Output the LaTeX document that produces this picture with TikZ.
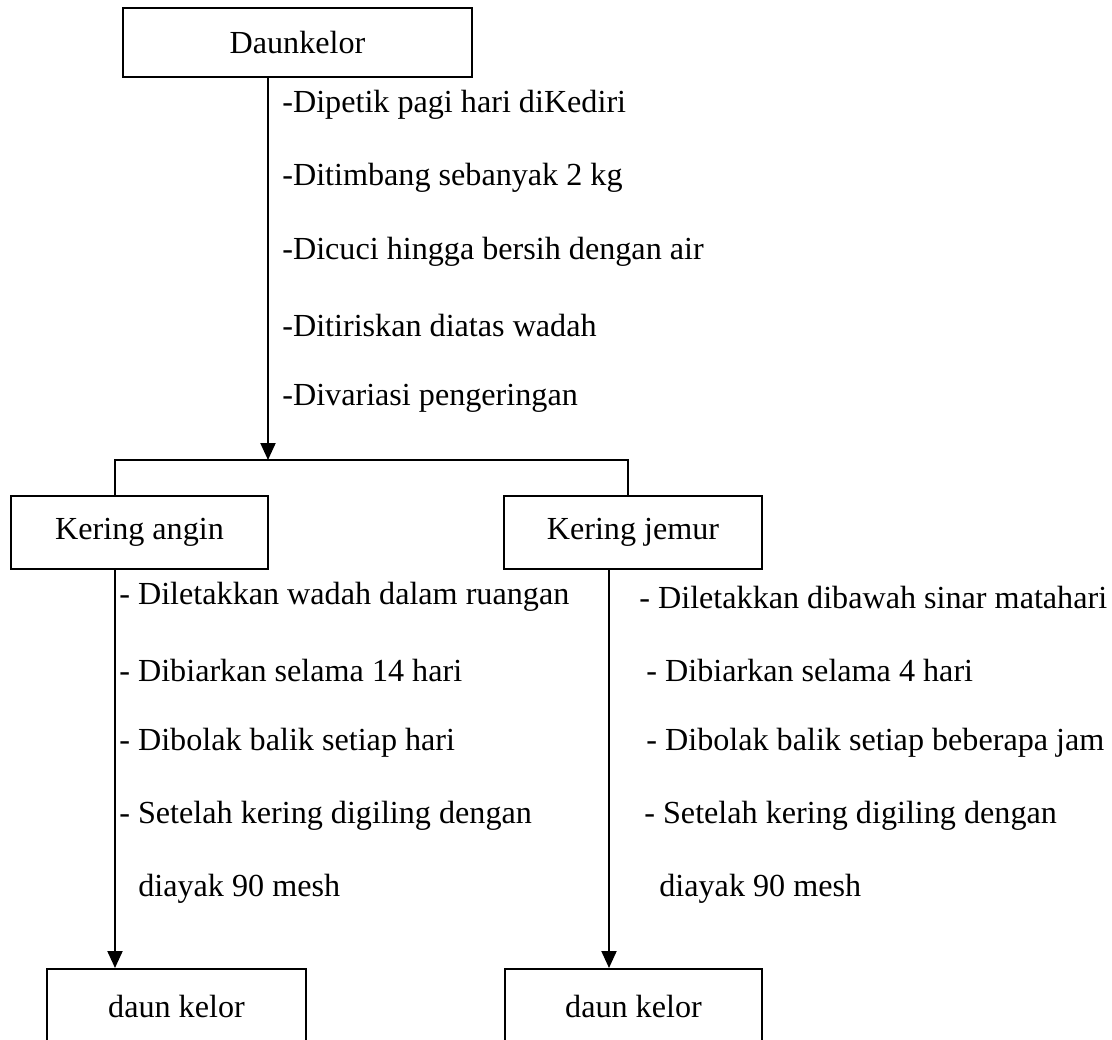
\documentclass[tikz,border=0pt]{standalone}
\usepackage{fontspec}
\setmainfont{Liberation Serif}
\usetikzlibrary{arrows.meta,positioning,calc}

\begin{document}
\begin{tikzpicture}[
  x=0.02cm, y=-0.02cm,
  every node/.style={font=\fontsize{18.3}{21}\selectfont},
  box/.style={rectangle, draw, line width=1.15pt, inner sep=0pt, align=center},
  note/.style={anchor=west, inner sep=0pt},
  arr/.style={-{Triangle[length=0.34cm, width=0.3cm]}, line width=1.15pt},
  ln/.style={line width=1.15pt},
]
\useasboundingbox (0,0) rectangle (1112,1039);
\clip (0,0) rectangle (1112,1039);

% boxes
\node[box, minimum width=6.98cm, minimum height=1.38cm] (daun) at (297.5,42.5) {Daunkelor};
\node[box, minimum width=5.14cm, minimum height=1.46cm] (angin) at (139.5,532.5) {Kering angin};
\node[box, minimum width=5.16cm, minimum height=1.46cm] (jemur) at (633,532.5) {Kering jemur};
\node[box, minimum width=5.18cm, minimum height=1.5cm] (hasilA) at (176.5,1006.5) {daun kelor};
\node[box, minimum width=5.14cm, minimum height=1.5cm] (hasilB) at (633.5,1006.5) {daun kelor};

% branch points
\coordinate (split) at (268,460);
\coordinate (kiri) at (115,460);
\coordinate (kanan) at (628,460);
\coordinate (turunA) at (115,569);
\coordinate (turunB) at (609,569);

% steps after picking
\node[note] (p1) at (282,105) {-Dipetik pagi hari diKediri};
\node[note] (p2) at (282,178) {-Ditimbang sebanyak 2 kg};
\node[note] (p3) at (282,252) {-Dicuci hingga bersih dengan air};
\node[note] (p4) at (282,325) {-Ditiriskan diatas wadah};
\node[note] (p5) at (282,398) {-Divariasi pengeringan};

% kering angin
\node[note] (a1) at (119,597) {- Diletakkan wadah dalam ruangan};
\node[note] (a2) at (119,670) {- Dibiarkan selama 14 hari};
\node[note] (a3) at (119,743) {- Dibolak balik setiap hari};
\node[note] (a4) at (119,816) {- Setelah kering digiling dengan};
\node[note] (a5) at (138,889) {diayak 90 mesh};

% kering jemur
\node[note] (b1) at (639,597) {- Diletakkan dibawah sinar matahari};
\node[note] (b2) at (646,670) {- Dibiarkan selama 4 hari};
\node[note] (b3) at (646,743) {- Dibolak balik setiap beberapa jam};
\node[note] (b4) at (644,816) {- Setelah kering digiling dengan};
\node[note] (b5) at (659,889) {diayak 90 mesh};

\draw[arr] (daun.south -| split) -- (split);
\draw[ln] (kiri |- angin.north) -- (kiri) -- (kanan) -- (kanan |- jemur.north);
\draw[arr] (turunA) -- (turunA |- hasilA.north);
\draw[arr] (turunB) -- (turunB |- hasilB.north);
\end{tikzpicture}
\end{document}
